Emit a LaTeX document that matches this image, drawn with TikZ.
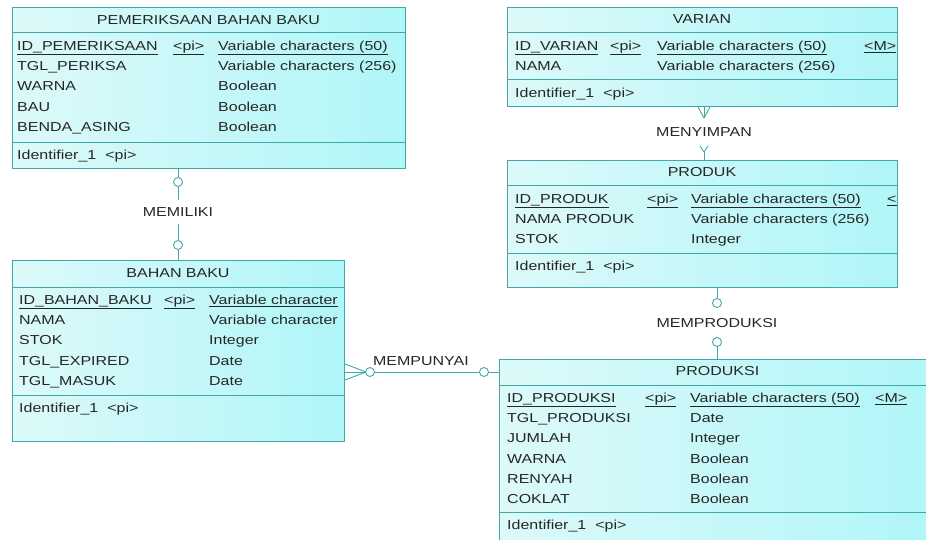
\documentclass[tikz,border=0pt]{standalone}
\usepackage{fontspec}
\newfontfamily\erf[FakeStretch=1.23]{Liberation Sans}
\usetikzlibrary{calc}
\definecolor{erborder}{HTML}{3FA9A9}
\definecolor{erlight}{HTML}{DDF9F9}
\definecolor{erdark}{HTML}{B0F6F8}
\definecolor{ertext}{HTML}{262626}
\begin{document}
\begin{tikzpicture}[x=1pt,y=-1pt,
 erbox/.style={draw=erborder, line width=1pt, left color=erlight, right color=erdark, rectangle, inner sep=0, anchor=north west},
 sepline/.style={draw=erborder, line width=1pt},
 txt/.style={font=\erf\fontsize{13}{15}\selectfont, text=ertext, inner sep=0, anchor=base west},
 ttl/.style={txt, anchor=base},
 conn/.style={draw=erborder, line width=0.9pt},
 ercirc/.style={circle, draw=erborder, fill=white, line width=0.9pt, minimum size=9pt, inner sep=0},
 rlab/.style={font=\erf\fontsize{13}{15}\selectfont, text=ertext, inner xsep=1pt}
]
\useasboundingbox (0,0) rectangle (926,540);
\clip (0,0) rectangle (926,540);

% ---------- PEMERIKSAAN BAHAN BAKU
\node[erbox, minimum width=393pt, minimum height=161pt] (e1) at (12,7) {};
\node[ttl] (e1t) at (208.5,24.7) {PEMERIKSAAN BAHAN BAKU};
\draw[sepline] (12,33) -- (405,33);
\draw[sepline] (12,143) -- (405,143);
\node[txt] (e1a1) at (17,50.5) {\underline{ID\_PEMERIKSAAN}};
\node[txt] (e1p1) at (173,50.5) {\underline{<pi>}};
\node[txt] (e1d1) at (218,50.5) {\underline{Variable characters (50)}};
\node[txt] (e1a2) at (17,70.7) {TGL\_PERIKSA};
\node[txt] (e1d2) at (218,70.7) {Variable characters (256)};
\node[txt] (e1a3) at (17,90.9) {WARNA};
\node[txt] (e1d3) at (218,90.9) {Boolean};
\node[txt] (e1a4) at (17,111.1) {BAU};
\node[txt] (e1d4) at (218,111.1) {Boolean};
\node[txt] (e1a5) at (17,131.3) {BENDA\_ASING};
\node[txt] (e1d5) at (218,131.3) {Boolean};
\node[txt] (e1i) at (17,159.5) {Identifier\_1\hspace{9pt}<pi>};

% ---------- VARIAN
\node[erbox, minimum width=390pt, minimum height=99pt] (e2) at (507,7) {};
\node[ttl] (e2t) at (702,23.5) {VARIAN};
\draw[sepline] (507,33) -- (897,33);
\draw[sepline] (507,80) -- (897,80);
\node[txt] (e2a1) at (515,50.5) {\underline{ID\_VARIAN}};
\node[txt] (e2p1) at (610,50.5) {\underline{<pi>}};
\node[txt] (e2d1) at (657,50.5) {\underline{Variable characters (50)}};
\node[txt] (e2m1) at (864,50.5) {\underline{<M>}};
\node[txt] (e2a2) at (515,70.7) {NAMA};
\node[txt] (e2d2) at (657,70.7) {Variable characters (256)};
\node[txt] (e2i) at (515,97.5) {Identifier\_1\hspace{9pt}<pi>};

% ---------- PRODUK
\node[erbox, minimum width=390pt, minimum height=127pt] (e3) at (507,160) {};
\node[ttl] (e3t) at (702,176.5) {PRODUK};
\draw[sepline] (507,186) -- (897,186);
\draw[sepline] (507,253) -- (897,253);
\node[txt] (e3a1) at (515,203.5) {\underline{ID\_PRODUK}};
\node[txt] (e3p1) at (647,203.5) {\underline{<pi>}};
\node[txt] (e3d1) at (691,203.5) {\underline{Variable characters (50)}};
\node[txt] (e3m1) at (887,203.5) {\underline{<}};
\node[txt] (e3a2) at (515,223.7) {NAMA PRODUK};
\node[txt] (e3d2) at (691,223.7) {Variable characters (256)};
\node[txt] (e3a3) at (515,243.9) {STOK};
\node[txt] (e3d3) at (691,243.9) {Integer};
\node[txt] (e3i) at (515,270.5) {Identifier\_1\hspace{9pt}<pi>};

% ---------- BAHAN BAKU
\node[erbox, minimum width=332pt, minimum height=181pt] (e4) at (12,260) {};
\node[ttl] (e4t) at (178,277.5) {BAHAN BAKU};
\draw[sepline] (12,287) -- (344,287);
\draw[sepline] (12,395) -- (344,395);
\node[txt] (e4a1) at (19,304.5) {\underline{ID\_BAHAN\_BAKU}};
\node[txt] (e4p1) at (164,304.5) {\underline{<pi>}};
\node[txt] (e4d1) at (209,304.5) {\underline{Variable character}};
\node[txt] (e4a2) at (19,324.7) {NAMA};
\node[txt] (e4d2) at (209,324.7) {Variable character};
\node[txt] (e4a3) at (19,344.9) {STOK};
\node[txt] (e4d3) at (209,344.9) {Integer};
\node[txt] (e4a4) at (19,365.1) {TGL\_EXPIRED};
\node[txt] (e4d4) at (209,365.1) {Date};
\node[txt] (e4a5) at (19,385.3) {TGL\_MASUK};
\node[txt] (e4d5) at (209,385.3) {Date};
\node[txt] (e4i) at (19,412.5) {Identifier\_1\hspace{9pt}<pi>};

% ---------- PRODUKSI
\node[erbox, minimum width=437pt, minimum height=200pt] (e5) at (499,359) {};
\node[ttl] (e5t) at (717.5,375.5) {PRODUKSI};
\draw[sepline] (499,385) -- (936,385);
\draw[sepline] (499,512) -- (936,512);
\node[txt] (e5a1) at (507,402.5) {\underline{ID\_PRODUKSI}};
\node[txt] (e5p1) at (645,402.5) {\underline{<pi>}};
\node[txt] (e5d1) at (690,402.5) {\underline{Variable characters (50)}};
\node[txt] (e5m1) at (875,402.5) {\underline{<M>}};
\node[txt] (e5a2) at (507,422.7) {TGL\_PRODUKSI};
\node[txt] (e5d2) at (690,422.7) {Date};
\node[txt] (e5a3) at (507,442.9) {JUMLAH};
\node[txt] (e5d3) at (690,442.9) {Integer};
\node[txt] (e5a4) at (507,463.1) {WARNA};
\node[txt] (e5d4) at (690,463.1) {Boolean};
\node[txt] (e5a5) at (507,483.3) {RENYAH};
\node[txt] (e5d5) at (690,483.3) {Boolean};
\node[txt] (e5a6) at (507,503.5) {COKLAT};
\node[txt] (e5d6) at (690,503.5) {Boolean};
\node[txt] (e5i) at (507,529.5) {Identifier\_1\hspace{9pt}<pi>};

% ---------- MEMILIKI
\node[rlab, inner ysep=7pt] (lab1) at (178,212) {MEMILIKI};
\node[ercirc] (c1) at (178,182) {};
\node[ercirc] (c2) at (178,245) {};
\draw[conn] (lab1 |- e1.south) -- (c1);
\draw[conn] (c1) -- (lab1.north);
\draw[conn] (lab1.south) -- (c2);
\draw[conn] (c2) -- (lab1 |- e4.north);

% ---------- MENYIMPAN
\node[rlab, inner ysep=2pt] (lab2) at (704,132) {MENYIMPAN};
\coordinate (k1) at (704,118);
\draw[conn] ($(k1 |- e2.south)+(-6,0)$) -- (k1);
\draw[conn] (k1 |- e2.south) -- (k1);
\draw[conn] ($(k1 |- e2.south)+(6,0)$) -- (k1);
\coordinate (y1) at (704,152);
\draw[conn] (700,146) -- (y1);
\draw[conn] (708,146) -- (y1);
\draw[conn] (y1) -- (y1 |- e3.north);

% ---------- MEMPRODUKSI
\node[rlab, inner ysep=2pt] (lab3) at (717,323) {MEMPRODUKSI};
\node[ercirc] (c3) at (717,303) {};
\node[ercirc] (c4) at (717,342) {};
\draw[conn] (c3 |- e3.south) -- (c3);
\draw[conn] (c4) -- (c4 |- e5.north);

% ---------- MEMPUNYAI
\node[rlab] (lab4) at (421,361) {MEMPUNYAI};
\coordinate (k2) at (366,372);
\draw[conn] ($(k2 -| e4.east)+(0,-8)$) -- (k2);
\draw[conn] (k2 -| e4.east) -- (k2);
\draw[conn] ($(k2 -| e4.east)+(0,8)$) -- (k2);
\node[ercirc] (c5) at (370,372) {};
\node[ercirc] (c6) at (484,372) {};
\draw[conn] (c5) -- (c6);
\draw[conn] (c6) -- (c6 -| e5.west);
\end{tikzpicture}
\end{document}
